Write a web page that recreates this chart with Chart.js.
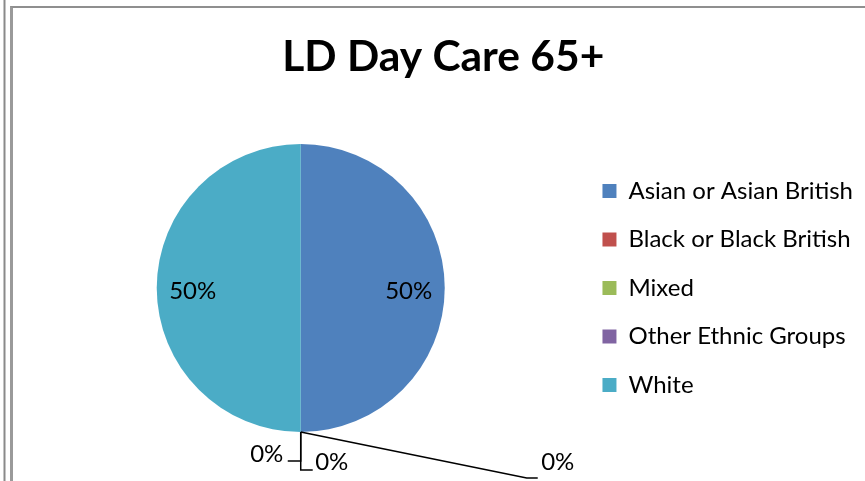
<!DOCTYPE html>
<html>
<head>
<meta charset="utf-8">
<script src="https://cdn.jsdelivr.net/npm/chart.js@4.4.0/dist/chart.umd.min.js"></script>
<style>
    html, body { margin: 0; padding: 0; background: #fff; overflow: hidden; }
    #wrap { position: relative; width: 865px; height: 481px; }
    #chart { position: absolute; left: 0; top: 0; }
    .rule { position: absolute; pointer-events: none; }
    #outer { left: 3px; top: 0; width: 1px; height: 481px; border-left: 1px solid #c4c4c4; border-right: 1px solid #c4c4c4; background: #8a8a8a; }
    #frame { left: 10px; top: 6px; width: 900px; height: 500px; border-left: 3px solid #9a9a9a; border-top: 2px solid #8f8f8f; }
</style>
</head>
<body>
<div id="wrap">
    <canvas id="chart" width="865" height="481"></canvas>
    <div class="rule" id="outer"></div>
    <div class="rule" id="frame"></div>
</div>
<script>
// chart data
const title = 'LD Day Care 65+'
const categories = ['Asian or Asian British', 'Black or Black British', 'Mixed', 'Other Ethnic Groups', 'White']
const values = [1, 0, 0, 0, 1]
const colors = ['#4F81BD', '#C0504D', '#9BBB59', '#8064A2', '#4BACC6']

// leader lines for the empty slices, relative to the slice's edge point
const leaders = {
    1: { path: [[0, 0], [0, 29], [-13, 29]], label: [-34, 22] },
    2: { path: [[0, 0], [0, 38], [12, 38]], label: [31, 30] },
    3: { path: [[0, 0], [226, 46], [237, 46]], label: [257, 30] }
}

const FONT = 'Lato'

// percentage labels, Excel style
const pctLabels = {
    id: 'pctLabels',
    afterDatasetsDraw(chart) {
        const ctx = chart.ctx
        const meta = chart.getDatasetMeta(0)
        const data = chart.data.datasets[0].data
        const total = data.reduce((a, b) => a + b, 0)

        ctx.save()
        ctx.font = `24px ${FONT}`
        ctx.fillStyle = '#000'
        ctx.strokeStyle = '#000'
        ctx.lineWidth = 1.5
        ctx.textAlign = 'center'
        ctx.textBaseline = 'middle'

        meta.data.forEach((arc, i) => {
            const p = arc.getProps(['x', 'y', 'startAngle', 'endAngle', 'outerRadius'])
            const mid = (p.startAngle + p.endAngle) / 2
            const text = Math.round(data[i] / total * 100) + '%'

            if (data[i] > 0) {
                const r = p.outerRadius * 0.75
                ctx.fillText(text, p.x + Math.cos(mid) * r, p.y + Math.sin(mid) * r + 3)
                return
            }

            const ax = p.x + Math.cos(mid) * p.outerRadius
            const ay = p.y + Math.sin(mid) * p.outerRadius
            const l = leaders[i]
            if (!l) return
            ctx.beginPath()
            l.path.forEach(([dx, dy], k) => {
                if (k === 0) ctx.moveTo(ax + dx, ay + dy)
                else ctx.lineTo(ax + dx, ay + dy)
            })
            ctx.stroke()
            ctx.fillText(text, ax + l.label[0], ay + l.label[1])
        })
        ctx.restore()
    }
}

new Chart(document.getElementById('chart'), {
    type: 'pie',
    data: {
        labels: categories,
        datasets: [{
            data: values,
            backgroundColor: colors,
            borderWidth: 0
        }]
    },
    options: {
        responsive: false,
        animation: false,
        layout: {
            padding: { left: 23.5, right: 2, top: 0, bottom: 49 }
        },
        plugins: {
            title: {
                display: true,
                text: title,
                color: '#000',
                font: { family: FONT, size: 42.5, weight: 'bold' },
                padding: { top: 32, bottom: 61 }
            },
            legend: {
                position: 'right',
                fullSize: false,
                labels: {
                    color: '#000',
                    font: { family: FONT, size: 24 },
                    boxWidth: 14,
                    boxHeight: 14,
                    padding: 24.5
                }
            },
            tooltip: { enabled: false }
        }
    },
    plugins: [pctLabels]
})
</script>
</body>
</html>
